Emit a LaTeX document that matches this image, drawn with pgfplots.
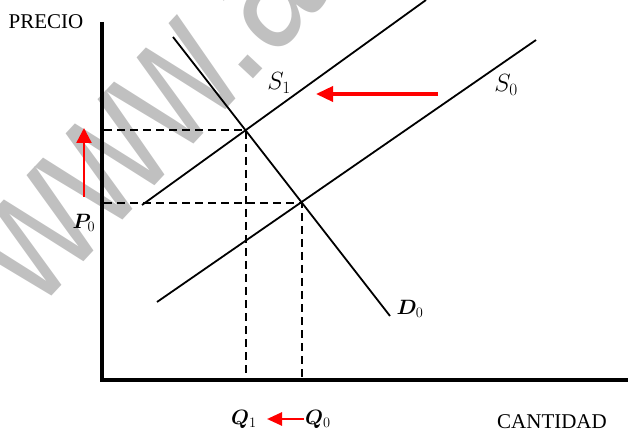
\documentclass[border=0pt]{standalone}
\usepackage{pgfplots}
\pgfplotsset{compat=1.18}
\usepackage{fontspec}
\setmainfont{Liberation Serif}
\newfontfamily\wmfont{Liberation Sans}
\usepackage{bm}
\usetikzlibrary{arrows.meta}
\definecolor{wm}{RGB}{192,192,192}
\definecolor{myred}{RGB}{255,0,0}
\begin{document}
\begin{tikzpicture}
\begin{axis}[
  scale only axis, width=628pt, height=431pt,
  xmin=0, xmax=628, ymin=0, ymax=431,
  axis lines=none, clip mode=global,
]
\node[wm, inner sep=0pt, anchor=base west, font=\wmfont\fontsize{190}{190}\selectfont, rotate=47, xscale=0.76] at (axis cs:37,119) {www.a};
% axes
\addplot[black, line width=3.5pt] coordinates {(102,409) (102,49.25)};
\addplot[black, line width=3.5pt] coordinates {(100.25,51) (628,51)};
% dashed guides
\addplot[black, line width=1.5pt, dash pattern=on 8pt off 5pt] coordinates {(104,301) (246,301) (246,53)};
\addplot[black, line width=1.5pt, dash pattern=on 8pt off 5pt] coordinates {(104,228) (302,228) (302,53)};
% curves S1, S0, D0
\addplot[black, line width=1.8pt] coordinates {(142,226) (426,431)};
\addplot[black, line width=1.8pt] coordinates {(157,129) (536,391)};
\addplot[black, line width=1.8pt] coordinates {(173,394) (390,115)};
% red arrows
\addplot[myred, line width=2.4pt, -{Triangle[length=15pt,width=15pt]}] coordinates {(84,234) (84,303)};
\addplot[myred, line width=3.5pt, -{Triangle[length=17pt,width=15pt]}] coordinates {(438,337) (316,337)};
\addplot[myred, line width=2.6pt, -{Triangle[length=15pt,width=13pt]}] coordinates {(304,12) (267,12)};
% labels
\node[anchor=base, font=\fontsize{21}{25}\selectfont] at (axis cs:46,402) {PRECIO};
\node[anchor=base, font=\fontsize{21}{25}\selectfont] at (axis cs:552,3) {CANTIDAD};
\node[font=\fontsize{23}{27}\selectfont] at (axis cs:279,348) {$S_1$};
\node[font=\fontsize{23}{27}\selectfont] at (axis cs:506,346) {$S_0$};
\node[font=\fontsize{22}{26}\selectfont] at (axis cs:410,122) {$\bm{D}_0$};
\node[font=\fontsize{22}{26}\selectfont] at (axis cs:84,208) {$\bm{P}_0$};
\node[font=\fontsize{22}{26}\selectfont] at (axis cs:244,12) {$\bm{Q}_1$};
\node[font=\fontsize{22}{26}\selectfont] at (axis cs:318,12) {$\bm{Q}_0$};
\coordinate (BL) at (axis cs:0,0);
\coordinate (TR) at (axis cs:628,431);
\end{axis}
\pgfresetboundingbox
\useasboundingbox (BL) rectangle (TR);
\end{tikzpicture}
\end{document}
